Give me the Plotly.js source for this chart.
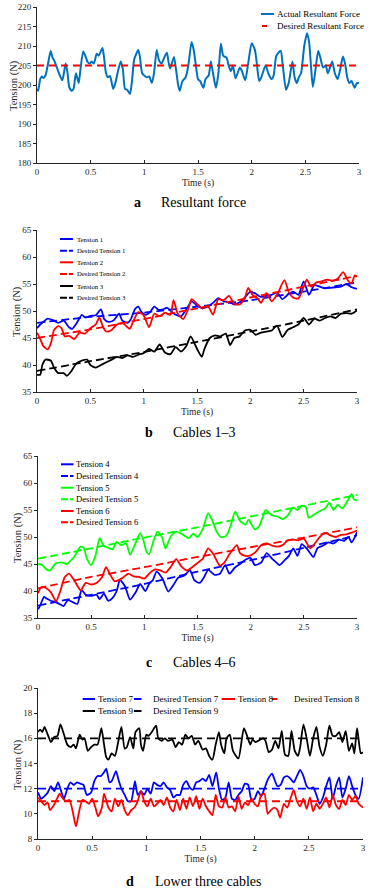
<!DOCTYPE html>
<html><head><meta charset="utf-8">
<script src="https://cdn.plot.ly/plotly-3.0.1.min.js"></script>
<style>html,body{margin:0;padding:0;background:#fff;overflow:hidden}</style>
</head><body><div id="chart" style="width:371px;height:891px"></div>
<script>
// ---------- Panel a: resultant force ----------
const tA = [0,0.01,0.03,0.045,0.06,0.08,0.10,0.127,0.145,0.165,0.185,0.205,0.236,0.267,0.285,0.30,0.323,0.34,0.363,0.388,0.405,0.43,0.45,0.47,0.49,0.51,0.53,0.556,0.575,0.61,0.625,0.643,0.66,0.68,0.71,0.73,0.75,0.78,0.80,0.82,0.84,0.866,0.885,0.905,0.944,0.96,0.98,1.02,1.045,1.07,1.09,1.115,1.135,1.16,1.185,1.21,1.225,1.24,1.276,1.295,1.315,1.33,1.355,1.385,1.41,1.44,1.46,1.48,1.50,1.52,1.55,1.57,1.60,1.62,1.64,1.667,1.69,1.713,1.735,1.766,1.785,1.806,1.825,1.85,1.89,1.91,1.94,1.97,2.00,2.03,2.05,2.07,2.09,2.13,2.155,2.185,2.205,2.23,2.27,2.29,2.32,2.345,2.38,2.40,2.42,2.44,2.46,2.49,2.516,2.535,2.555,2.57,2.595,2.62,2.64,2.665,2.69,2.71,2.75,2.775,2.80,2.825,2.85,2.87,2.89,2.91,2.93,2.96,2.98,3.00];
const actualResultant = [199,198.5,201.5,202.2,201.8,202.5,205,208.7,207,206,204.5,203,201.2,205.5,203,199.5,198.5,199,203,200.5,204,208.6,207.5,206,205.5,206,205.5,208,207.5,209.5,207,203,202,202.3,199,200.5,203,206,204,199,198.8,197.7,201,206.5,209,207,203,202,202.2,200.5,203,209,206.5,205.5,207,208.3,206,204.2,207.2,204,200,198.5,201,202,205,211,209,205,201.5,201,199.3,201.5,202.5,206,203,199.3,203,210.6,207.5,207,205,203.5,205,201.7,204.5,203.5,201.2,206,210.7,209,205,201,202,205,203,201.5,202.5,207.5,208.8,205,198.8,200.5,206,202,200.5,202,203,210,213.3,211,204,199.5,204,208.8,207,204.5,205,203,206,203,201.5,204,207.3,205.5,202,200.5,201,199.3,200.5,200.5];
const tDesiredA = [0, 3];
const desiredResultant = [205, 205];

// ---------- Panel b: cables 1-3 ----------
const t1 = [0,0.03,0.06,0.1,0.15,0.2,0.25,0.3,0.33,0.37,0.42,0.45,0.5,0.55,0.6,0.63,0.67,0.72,0.77,0.8,0.85,0.88,0.92,0.95,0.98,1.02,1.06,1.1,1.14,1.18,1.22,1.26,1.3,1.35,1.4,1.45,1.5,1.55,1.6,1.65,1.7,1.75,1.8,1.85,1.9,1.95,2.0,2.05,2.1,2.15,2.2,2.25,2.3,2.35,2.4,2.45,2.5,2.55,2.6,2.65,2.7,2.75,2.8,2.85,2.9,2.95,3.0];
const tension1 = [46.8,47.5,48,48.6,48.3,47.8,48.2,47,46.7,47.7,49.3,48.8,49.1,49.2,50.3,48.5,48,48.3,49.5,48.2,47.8,48.5,50.4,50.8,49.8,49.3,49.8,50.8,50.2,50.3,50.6,49.9,49.3,49,50.3,51.8,51,50.5,50.8,51.5,52.4,51.8,51.7,51.2,51.6,52.5,53.6,53.2,52.6,52.8,53,53.4,52.2,53,53.6,53,55.5,53,54.8,54.5,54.2,54.3,54.4,54.5,55,54.4,54.1];
const t2 = [0,0.03,0.06,0.1,0.13,0.16,0.2,0.23,0.26,0.3,0.35,0.4,0.45,0.5,0.55,0.585,0.62,0.65,0.7,0.75,0.8,0.87,0.9,0.95,1.0,1.05,1.1,1.15,1.2,1.25,1.28,1.32,1.37,1.42,1.45,1.5,1.55,1.6,1.65,1.7,1.75,1.8,1.85,1.9,1.95,1.98,2.02,2.07,2.1,2.15,2.2,2.25,2.32,2.36,2.4,2.45,2.5,2.53,2.57,2.62,2.67,2.72,2.77,2.82,2.87,2.92,2.95,2.98,3.0];
const tension2 = [46,44.8,43.5,42.9,44,46.5,47.2,46.8,45.3,45.4,44.8,46,45.8,46.8,47.5,48.8,47,46.2,46.5,47.5,47.8,46.7,48,49.8,49.2,47,49.5,49,49.7,49.3,52,49.5,48.5,50.5,52.2,51.3,50.5,51,49.3,52.2,52,52.8,51.3,51.2,52.5,54.3,53,52.3,51.5,53.3,51.8,53,55.7,53.5,52.5,52.3,54.5,55.8,54.5,55.3,55.5,55.8,55.6,56,57.2,55.5,55.2,56.6,56.3];
const t3 = [0,0.03,0.05,0.08,0.13,0.16,0.2,0.25,0.28,0.32,0.37,0.42,0.47,0.5,0.55,0.6,0.65,0.7,0.75,0.8,0.85,0.9,0.95,1.0,1.05,1.1,1.15,1.2,1.25,1.3,1.35,1.4,1.44,1.5,1.545,1.57,1.62,1.67,1.72,1.77,1.81,1.85,1.9,1.95,2.0,2.05,2.1,2.15,2.2,2.25,2.3,2.35,2.4,2.45,2.5,2.55,2.6,2.65,2.7,2.75,2.8,2.85,2.9,2.95,3.0];
const tension3 = [38.2,38.2,40,41,40.8,39.5,38.5,38.5,38,38.8,40.3,40.8,41,40,39.5,40,40.5,41,41.5,41.3,41.8,41.5,41.9,42.2,43,42.5,43.8,42.3,42,43.3,42.5,43.5,45.3,43,41.5,43,45,45.5,45.3,45.8,43.7,45,45.3,46.4,46.5,45.6,46,46.2,46.4,47.3,45.2,46.5,47,47.5,48.7,47.5,48.6,48.2,48.7,49,48.7,49.5,49.6,49.5,50.1];
const tDesiredB = [0,0.5,1,1.5,2,2.5,3];
const desired1 = [47.8,48.9,49.7,50.8,52,53.6,55.3];
const desired2 = [45,46.6,48.5,50.5,52.5,54.5,56.5];
const desired3 = [38.9,40.7,42.4,44.3,46.2,48.2,50.3];

// ---------- Panel c: cables 4-6 ----------
const t4 = [0,0.02,0.057,0.08,0.12,0.16,0.2,0.24,0.28,0.32,0.37,0.41,0.45,0.5,0.55,0.58,0.62,0.66,0.7,0.74,0.77,0.82,0.865,0.92,0.96,1.01,1.05,1.08,1.115,1.17,1.225,1.27,1.32,1.37,1.43,1.47,1.52,1.56,1.6,1.66,1.71,1.76,1.8,1.85,1.9,1.95,2.0,2.04,2.1,2.15,2.2,2.24,2.27,2.32,2.36,2.4,2.44,2.48,2.53,2.59,2.63,2.68,2.73,2.78,2.83,2.88,2.92,2.95,3.0];
const tension4 = [36.6,37.3,38.9,38.6,38.2,38,37.6,37.2,38.3,38,37.6,40.2,39.3,39.1,39.3,38.5,39.5,38.2,38.7,40,42,40.8,38.4,39.8,41.3,40,41.5,42,43.6,42.3,39.9,41,42.5,42.8,43.8,42,41.5,42.5,43.9,43,43.2,44.8,43.2,44.3,45,45.8,46.1,44.8,45.3,47,46,45.3,44.8,45.7,46.5,47.9,46.5,48.7,47.8,46.3,48,48.4,49,48.8,49.5,49.3,50,49,50.9];
const t5 = [0,0.04,0.08,0.116,0.16,0.22,0.27,0.3,0.34,0.4,0.43,0.46,0.5,0.54,0.58,0.62,0.66,0.7,0.74,0.78,0.83,0.865,0.91,0.96,0.99,1.02,1.045,1.09,1.125,1.165,1.2,1.25,1.3,1.34,1.38,1.42,1.46,1.5,1.55,1.6,1.64,1.68,1.72,1.77,1.81,1.855,1.9,1.95,1.98,2.04,2.08,2.11,2.14,2.2,2.25,2.3,2.35,2.4,2.44,2.48,2.52,2.545,2.6,2.65,2.7,2.74,2.78,2.82,2.86,2.9,2.95,2.97,3.0];
const tension5 = [45,44.8,44,43.8,45,45.3,45,45.5,46.3,48.2,48,46,44.8,46.5,49.8,48.3,48,47.7,49.1,48.5,48.8,46.7,48.5,50.7,49.5,47.3,46.8,49.5,51,50,47.9,50.2,51,50.7,50.2,49.8,50.6,50,51.5,54.4,53,51,50,50.2,52,54.7,53,52.3,53.2,51.4,52,53.5,55,54,53.8,53.3,54,55.5,55,55.8,55.5,53.6,54.2,54.8,55.3,56.3,55,56,55.3,56.3,58,57,56.8];
const t6 = [0,0.03,0.07,0.12,0.17,0.21,0.25,0.29,0.33,0.37,0.4,0.45,0.5,0.55,0.6,0.64,0.68,0.72,0.76,0.8,0.85,0.9,0.95,1.0,1.05,1.1,1.15,1.2,1.25,1.3,1.35,1.4,1.45,1.5,1.55,1.6,1.65,1.71,1.75,1.8,1.87,1.9,1.95,2.0,2.05,2.1,2.15,2.2,2.25,2.3,2.35,2.4,2.45,2.5,2.56,2.6,2.65,2.7,2.75,2.8,2.85,2.9,2.95,3.0];
const tension6 = [39.6,40.7,40.6,39.8,38.1,40,42.5,43.2,42.3,41,40.1,41.5,41.2,41.5,42.5,44.4,43,41.8,42,42.5,43.2,42.7,42.6,42.3,43.3,44,43.8,43.4,44.5,45.9,44.5,43.8,44.4,45.2,46,47.9,46.8,44.7,45.2,46.8,48.5,47,46.5,46.6,47.3,48.5,48.8,48.4,48.2,48.5,49.4,49.5,49.4,49.7,47.9,48.7,50,50.8,50.3,50,50.4,50.5,50.8,51.2];
const tDesiredC = [0,0.5,1,1.5,2,2.5,3];
const desired4 = [37.3,39.3,41.3,43.6,45.7,48,50.3];
const desired5 = [46,47.9,49.9,51.8,53.8,55.8,57.8];
const desired6 = [40.5,42.6,44.4,46.3,48.1,49.9,51.8];

// ---------- Panel d: lower three cables ----------
const t7 = [0,0.03,0.06,0.09,0.12,0.15,0.185,0.21,0.24,0.27,0.3,0.33,0.36,0.39,0.42,0.45,0.49,0.52,0.55,0.58,0.61,0.63,0.66,0.68,0.72,0.74,0.77,0.8,0.83,0.86,0.895,0.92,0.95,0.98,1.01,1.04,1.07,1.1,1.13,1.16,1.19,1.22,1.25,1.28,1.31,1.34,1.37,1.4,1.43,1.46,1.49,1.52,1.55,1.58,1.61,1.645,1.67,1.7,1.73,1.76,1.79,1.82,1.85,1.88,1.91,1.94,1.97,2.0,2.03,2.06,2.09,2.12,2.16,2.18,2.21,2.24,2.27,2.3,2.33,2.36,2.39,2.42,2.45,2.48,2.51,2.54,2.57,2.6,2.63,2.66,2.69,2.72,2.75,2.78,2.81,2.84,2.87,2.9,2.93,2.96,3.0];
const tension7 = [11.7,11.2,11.4,11.7,12.2,11.8,12.5,11.9,11.2,12,12.5,12.3,12.5,12.4,12.3,11.5,11.7,12.6,13,13,13.3,13.6,12.5,12.6,13.4,12.8,12,11.5,11,11,12.6,11.5,11.8,11.5,12,11.6,12.5,12.3,12.2,12.5,12.1,11.9,11.3,11.5,11.5,12.3,12.6,12.1,11.9,12.5,12.6,12.8,12.6,13.1,12.2,13.3,12,11.1,11.3,12.5,11.2,11.1,11.5,11.8,12.4,12.3,11.1,11.2,11.8,11.4,12,12.7,13.2,12.8,12.2,12.3,12.9,13,12.8,12.5,13,13.5,13,12.2,12,12.1,11.5,10.8,11.3,12.2,12.9,11.2,12.2,12.9,11.3,12,13,12.2,11.5,11.2,12.9];
const t8 = [0,0.03,0.06,0.09,0.11,0.14,0.17,0.2,0.23,0.26,0.29,0.32,0.35,0.38,0.41,0.44,0.47,0.5,0.53,0.555,0.59,0.61,0.65,0.68,0.71,0.74,0.77,0.8,0.83,0.86,0.89,0.92,0.95,0.98,1.01,1.04,1.07,1.1,1.13,1.16,1.19,1.22,1.25,1.28,1.31,1.34,1.37,1.4,1.43,1.46,1.49,1.52,1.55,1.58,1.61,1.64,1.67,1.7,1.73,1.76,1.79,1.82,1.85,1.88,1.91,1.94,1.97,2.0,2.03,2.06,2.09,2.12,2.15,2.18,2.21,2.235,2.27,2.3,2.33,2.36,2.39,2.42,2.45,2.48,2.51,2.54,2.57,2.6,2.63,2.66,2.69,2.72,2.75,2.78,2.81,2.84,2.87,2.9,2.93,2.96,3.0];
const tension8 = [11.3,11,10.7,10.9,10.3,10.6,11.1,11.6,11.2,11,11.1,10.2,9,10.2,11.1,11,10.8,11.2,10.5,9.8,10.5,11.6,10.5,10.2,11.2,10.6,11.1,10.3,9.9,10.3,10.5,11,11.8,11,10.6,11.2,10.6,10.8,11.1,10.7,11.3,10.5,10.2,11.1,10.3,11.2,10.4,11.3,10.6,11.4,10.4,11.2,10.6,10.2,9.9,11.5,10.6,10.5,11.3,10.5,10.6,10.2,11.4,10.4,10.9,10.7,11.2,10.8,10.6,11.5,11.6,10,10.3,10.5,10.3,9.7,10.8,10.5,11.2,11.9,11,10.6,11.2,10.4,11.3,10.2,10.8,10.4,10.8,11.3,10.5,11.5,10.7,10.4,11.1,10.7,11.5,11.1,11.4,10.8,10.5];
const t9 = [0,0.02,0.04,0.06,0.09,0.12,0.15,0.18,0.207,0.24,0.27,0.3,0.33,0.35,0.385,0.41,0.43,0.46,0.49,0.52,0.55,0.585,0.61,0.63,0.65,0.68,0.71,0.74,0.77,0.8,0.82,0.85,0.88,0.9,0.935,0.95,0.97,1.0,1.02,1.05,1.09,1.11,1.14,1.17,1.2,1.24,1.27,1.3,1.33,1.36,1.39,1.42,1.45,1.48,1.52,1.55,1.58,1.61,1.64,1.67,1.69,1.72,1.74,1.77,1.8,1.85,1.9,1.93,1.96,1.98,2.01,2.05,2.08,2.1,2.13,2.16,2.19,2.22,2.25,2.28,2.31,2.34,2.37,2.4,2.42,2.45,2.48,2.51,2.54,2.57,2.6,2.63,2.66,2.69,2.72,2.75,2.78,2.81,2.84,2.87,2.9,2.92,2.945,2.98,3.0];
const tension9 = [16.5,16.7,16.5,16.9,16.3,15.7,16.1,16.2,17.1,16.3,15.5,15.3,15.5,15.2,16.3,15.9,16,15,15.3,15.5,15.5,16.8,15.5,14.5,14.3,14.8,14.6,15.7,16.9,15.2,15.3,16.1,15.2,16.5,16.8,15.5,15,16.3,16.2,16.5,17,16,15.8,16,15.8,15.9,15.3,15.7,15.5,16.3,16,16.2,15.5,15.8,15.1,15.2,14.6,14.3,15.5,16.5,15.5,14.8,16,16.3,15,14.4,16.8,16.2,15.5,15.9,15.7,15.9,16,15.8,14.9,15.1,15.8,15.2,16.6,14.7,14.6,16.6,15,14.6,15.3,17.1,16,14.6,16,16.9,15.3,14.6,15.5,17,16.2,16.2,16.5,15.7,16.6,15,15.6,14.8,16.8,14.8,14.9];
const tDesiredD = [0, 3];
const desired7 = [12, 12];
const desired8 = [11, 11];
const desired9 = [16, 16];

// ---------- tick labels / captions ----------
const xTickVals = [0,0.5,1,1.5,2,2.5,3];
const xTickText = ['0','0.5','1','1.5','2','2.5','3'];
const captionLetters = ['a','b','c','d'];
const captionTexts = ['Resultant force','Cables 1\u20133','Cables 4\u20136','Lower three cables'];

// ---------- drawing ----------
const FONT = 'Liberation Serif';
const W = 371, H = 891;
const px = x => x / W, py = y => 1 - y / H;
const BLUE = '#0000FF', RED = '#FF0000', BLACK = '#000000', GREEN = '#00FF00', MBLUE = '#0072BD';

const traces = [];
function addLine(x, y, ax, color, dash, width, name){
  traces.push({type:'scatter', mode:'lines', x:x, y:y, xaxis:'x'+ax, yaxis:'y'+ax, name:name,
    showlegend:false, hoverinfo:'skip',
    line:{color:color, width:width, dash:dash, shape:'spline', smoothing:0.6}});
}
addLine(tA, actualResultant, '', MBLUE, 'solid', 2, 'Actual Resultant Force');
addLine(tDesiredA, desiredResultant, '', RED, '7px,5px', 2.2, 'Desired Resultant Force');
const seriesB = [
  {x:t1, y:tension1, c:BLUE, d:'solid', n:'Tension 1'},
  {x:tDesiredB, y:desired1, c:BLUE, d:'8px,4px', n:'Desired Tension 1'},
  {x:t2, y:tension2, c:RED, d:'solid', n:'Tension 2'},
  {x:tDesiredB, y:desired2, c:RED, d:'8px,4px', n:'Desired Tension 2'},
  {x:t3, y:tension3, c:BLACK, d:'solid', n:'Tension 3'},
  {x:tDesiredB, y:desired3, c:BLACK, d:'8px,4px', n:'Desired Tension 3'}];
seriesB.forEach(s => addLine(s.x, s.y, '2', s.c, s.d, 1.8, s.n));
const seriesC = [
  {x:t4, y:tension4, c:BLUE, d:'solid', n:'Tension 4'},
  {x:tDesiredC, y:desired4, c:BLUE, d:'8px,4px', n:'Desired Tension 4'},
  {x:t5, y:tension5, c:GREEN, d:'solid', n:'Tension 5'},
  {x:tDesiredC, y:desired5, c:GREEN, d:'8px,4px', n:'Desired Tension 5'},
  {x:t6, y:tension6, c:RED, d:'solid', n:'Tension 6'},
  {x:tDesiredC, y:desired6, c:RED, d:'8px,4px', n:'Desired Tension 6'}];
seriesC.forEach(s => addLine(s.x, s.y, '3', s.c, s.d, 1.8, s.n));
const seriesD = [
  {x:t7, y:tension7, c:BLUE, d:'solid', n:'Tension 7'},
  {x:tDesiredD, y:desired7, c:BLUE, d:'8px,5px', n:'Desired Tension 7'},
  {x:t8, y:tension8, c:RED, d:'solid', n:'Tension 8'},
  {x:tDesiredD, y:desired8, c:RED, d:'8px,5px', n:'Desired Tension 8'},
  {x:t9, y:tension9, c:BLACK, d:'solid', n:'Tension 9'},
  {x:tDesiredD, y:desired9, c:BLACK, d:'8px,5px', n:'Desired Tension 9'}];
seriesD.forEach(s => addLine(s.x, s.y, '4', s.c, s.d, 1.8, s.n));

const layout = {width:W, height:H, margin:{l:0,r:0,t:0,b:0}, paper_bgcolor:'#fff', plot_bgcolor:'#fff',
  showlegend:false, font:{family:FONT, color:'#262626'}, shapes:[], annotations:[]};

const boxes = [
  {xd:[37,359], yd:[7,163], yr:[180,220], dy:5, ytx:14},
  {xd:[37,357], yd:[230,392], yr:[35,65], dy:5, ytx:17},
  {xd:[38,357], yd:[456,618], yr:[35,65], dy:5, ytx:18},
  {xd:[38,363], yd:[688,839], yr:[8,20], dy:2, ytx:17.5}];
const axCommon = {showline:true, linecolor:'#262626', linewidth:1, ticklen:3, tickwidth:1,
  tickcolor:'#262626', showgrid:false, zeroline:false, mirror:false, fixedrange:true,
  tickfont:{family:FONT, size:9, color:'#262626'}};
boxes.forEach((b,i) => {
  const s = i === 0 ? '' : String(i+1);
  layout['xaxis'+s] = Object.assign({}, axCommon, {domain:[px(b.xd[0]), px(b.xd[1])], anchor:'y'+s,
    ticks:'inside', range:[0,3], tickmode:'array', tickvals:xTickVals, ticktext:xTickText,
    title:{text:'Time (s)', font:{family:FONT, size:9.5, color:'#262626'}, standoff:3}});
  layout['yaxis'+s] = Object.assign({}, axCommon, {domain:[py(b.yd[1]), py(b.yd[0])], anchor:'x'+s,
    ticks:'outside', range:b.yr, tick0:b.yr[0], dtick:b.dy});
  // y-axis title, placed precisely beside the tick labels
  layout.annotations.push({xref:'paper', yref:'paper', x:px(b.ytx), y:py((b.yd[0]+b.yd[1])/2 + 1),
    xanchor:'center', yanchor:'middle', textangle:-90, text:'Tension (N)', showarrow:false,
    font:{family:FONT, size:10.5, color:'#262626'}});
});

const capPos = [{lx:137, tx:159, y:203}, {lx:149, tx:171, y:432}, {lx:149, tx:171, y:662}, {lx:130, tx:153, y:881.5}];
capPos.forEach((c,i) => {
  layout.annotations.push({xref:'paper', yref:'paper', x:px(c.lx), y:py(c.y), xanchor:'center', yanchor:'middle',
    text:'<b>'+captionLetters[i]+'</b>', showarrow:false, font:{family:FONT, size:14, color:'#000'}});
  layout.annotations.push({xref:'paper', yref:'paper', x:px(c.tx), y:py(c.y), xanchor:'left', yanchor:'middle',
    text:captionTexts[i], showarrow:false, font:{family:FONT, size:14, color:'#000'}});
});

function legendEntry(name, color, dash, lx0, lx1, ly, tx, size){
  layout.shapes.push({type:'line', xref:'paper', yref:'paper', x0:px(lx0), x1:px(lx1), y0:py(ly), y1:py(ly),
    line:{color:color, width:2, dash:dash}});
  layout.annotations.push({xref:'paper', yref:'paper', x:px(tx), y:py(ly), xanchor:'left', yanchor:'middle',
    text:name, showarrow:false, font:{family:FONT, size:size, color:'#000'}});
}
legendEntry('Actual Resultant Force', MBLUE, 'solid', 261, 274, 14, 274.5, 9);
legendEntry('Desired Resultant Force', RED, 'solid', 262, 267, 26, 274.5, 9);
const rowsB = [239, 250.7, 262.3, 274, 286, 297.7];
seriesB.forEach((s,i) => legendEntry(s.n, s.c, s.d === 'solid' ? 'solid' : '7px,2px', 60, 73, rowsB[i], 74.5, 6.7));
const rowsC = [464.3, 476, 487.7, 499.3, 511, 522.3];
seriesC.forEach((s,i) => legendEntry(s.n, s.c, s.d === 'solid' ? 'solid' : '7px,2px', 61, 73.5, rowsC[i], 74, 8.6));
const gridD = [
  {l0:82.7, l1:95, tx:95.5, y:699}, {l0:134, l1:141.5, tx:150.7, y:699},
  {l0:221.7, l1:235, tx:235.5, y:699}, {l0:272, l1:277.5, tx:292, y:699},
  {l0:82.7, l1:95, tx:95.5, y:711}, {l0:134, l1:141.5, tx:150.7, y:711}];
seriesD.forEach((s,i) => { const g = gridD[i]; legendEntry(s.n, s.c, 'solid', g.l0, g.l1, g.y, g.tx, 9); });

Plotly.newPlot('chart', traces, layout, {staticPlot:true, displayModeBar:false});
</script>
</body></html>
